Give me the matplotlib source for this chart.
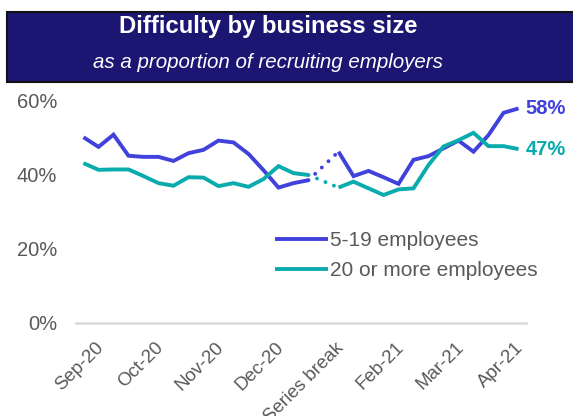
import numpy as np
import matplotlib
matplotlib.use("Agg")
import matplotlib.pyplot as plt
from matplotlib.patches import Rectangle
from matplotlib.transforms import ScaledTranslation

plt.rcParams['font.family'] = ['Liberation Sans', 'DejaVu Sans']

# Fortnightly survey readings (% of recruiting employers reporting difficulty)
# Index 16 is the series break: no reading there.
small_firms = [50.2, 47.6, 50.9, 45.2, 44.9, 44.9, 43.8, 45.9, 46.8, 49.3,
               48.8, 45.7, 41.3, 36.6, 37.8, 38.6, np.nan, 46.3, 39.7, 41.1,
               39.4, 37.6, 44.1, 45.1, 47.2, 49.3, 46.3, 50.8, 56.8, 58.0]
large_firms = [43.2, 41.4, 41.5, 41.5, 39.7, 37.8, 37.1, 39.4, 39.3, 37.0,
               37.8, 36.8, 38.9, 42.4, 40.5, 40.0, np.nan, 36.6, 38.2, 36.4,
               34.6, 36.1, 36.4, 42.7, 47.7, 49.4, 51.4, 47.8, 47.8, 47.0]
series_names = ["5-19 employees", "20 or more employees"]
month_labels = ["Sep-20", "Oct-20", "Nov-20", "Dec-20", "Series break",
                "Feb-21", "Mar-21", "Apr-21"]
label_every = 4
break_idx = 16
y_ticks = [0, 20, 40, 60]

BLUE = "#4141DC"
TEAL = "#0AABAD"
NAVY = "#1B1672"
GREY = "#595959"

fig = plt.figure(figsize=(5.73, 4.16), dpi=100)
ax = fig.add_axes([76 / 573, 1 - 323 / 416, 450 / 573, 222 / 416])

x = np.arange(len(small_firms))
lw = 2.8
for vals, col, name in [(small_firms, BLUE, series_names[0]),
                        (large_firms, TEAL, series_names[1])]:
    v = np.array(vals, dtype=float) / 100
    ax.plot(x, v, color=col, lw=lw, solid_joinstyle='miter',
            solid_capstyle='butt', label=name)
    # dotted bridge across the series break
    ax.plot([break_idx - 1, break_idx + 1],
            [v[break_idx - 1], v[break_idx + 1]],
            color=col, lw=lw, linestyle=(0, (0.01, 2.35)),
            dash_capstyle='round')
    ax.annotate(f"{vals[-1]:.0f}%", (x[-1], v[-1]), xytext=(5, 0),
                textcoords='offset points', ha='left', va='center',
                color=col, fontsize=14.5, fontweight='bold')

ax.set_xlim(-0.5, len(small_firms) - 0.5)
ax.set_ylim(0, 0.6)
ax.set_yticks([t / 100 for t in y_ticks])
ax.set_yticklabels([f"{t}%" for t in y_ticks])
ax.tick_params(axis='y', length=0, pad=13.5, labelsize=14.5, labelcolor=GREY)

pos = [label_every / 2 - 0.5 + label_every * i for i in range(len(month_labels))]
ax.set_xticks(pos)
ax.set_xticklabels(month_labels)
ax.tick_params(axis='x', length=0, pad=16, labelsize=13.5, labelcolor=GREY)
shift = ScaledTranslation(-5 / 100, 0, fig.dpi_scale_trans)
for lab in ax.get_xticklabels():
    lab.set_rotation(45)
    lab.set_ha('right')
    lab.set_va('center')
    lab.set_rotation_mode('anchor')
    lab.set_transform(lab.get_transform() + shift)

for s in ['top', 'right', 'left']:
    ax.spines[s].set_visible(False)
ax.spines['bottom'].set_color('#D9D9D9')
ax.spines['bottom'].set_linewidth(1.8)

leg = ax.legend(loc='upper left', bbox_to_anchor=(275 / 573, 1 - 231 / 416),
                bbox_transform=fig.transFigure, frameon=False, fontsize=15,
                handlelength=2.55, handletextpad=0.1, labelspacing=0.55,
                borderpad=0, borderaxespad=0)
for t in leg.get_texts():
    t.set_color(GREY)

# title banner
fig.patches.append(Rectangle((7 / 573, 1 - 82 / 416), 1.0, 70 / 416,
                             transform=fig.transFigure, facecolor=NAVY,
                             edgecolor='#111111', linewidth=1.5, zorder=0))
fig.text(268 / 573, 1 - 26 / 416, "Difficulty by business size",
         ha='center', va='center', color='white', fontsize=17.2,
         fontweight='bold')
fig.text(268 / 573, 1 - 63 / 416, "as a proportion of recruiting employers",
         ha='center', va='center', color='white', fontsize=14.8,
         style='italic')

fig.savefig("out.png", dpi=100)
